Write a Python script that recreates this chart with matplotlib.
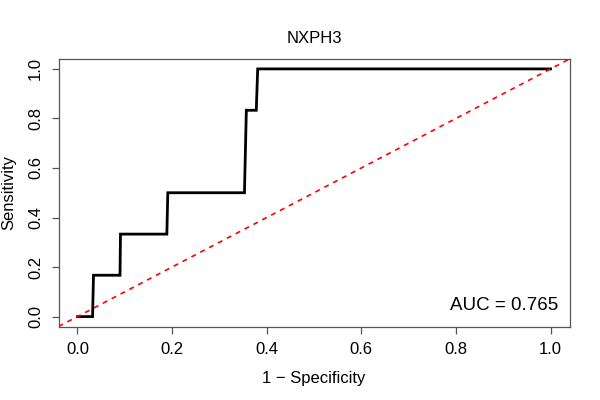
import numpy as np
import matplotlib
matplotlib.use('Agg')
import matplotlib.pyplot as plt

plt.rcParams['font.family'] = ['Liberation Sans', 'DejaVu Sans']
plt.rcParams['lines.scale_dashes'] = False

# ROC curve points
fpr = [0, 0.032, 0.034, 0.090, 0.091, 0.189, 0.191, 0.353, 0.357, 0.378, 0.381, 1.0]
tpr = [0, 0, 0.167, 0.167, 0.333, 0.333, 0.5, 0.5, 0.833, 0.833, 1.0, 1.0]
ticks = [0.0, 0.2, 0.4, 0.6, 0.8, 1.0]
tick_labels = ['0.0', '0.2', '0.4', '0.6', '0.8', '1.0']
auc = 0.765
gene = 'NXPH3'

fig = plt.figure(figsize=(6, 4), dpi=100)
ax = fig.add_axes([58.5/600, 1 - 326.5/400, (569.5 - 58.5)/600, (326.5 - 59)/400])

ax.plot(fpr, tpr, color='black', lw=2.0, solid_joinstyle='miter')
ax.axline((0, 0), slope=1, color='red', lw=1.2, linestyle=(0, (3.6, 3.6)))

ax.set_xlim(-0.04, 1.04)
ax.set_ylim(-0.04, 1.04)
ax.set_xticks(ticks)
ax.set_xticklabels(tick_labels)
ax.set_yticks(ticks)
ax.set_yticklabels(tick_labels, rotation=90, va='center')

for s in ax.spines.values():
    s.set_color('#555555')
    s.set_linewidth(0.9)
ax.tick_params(direction='out', length=5, width=0.9, color='#555555',
               labelsize=12, pad=6)

ax.text(1.017, 0.025, 'AUC = ' + str(auc), ha='right', va='baseline', fontsize=13.5)

fig.text(314 / 600, 1 - 42.7 / 400, gene, ha='center', va='baseline', fontsize=12)
fig.text(314 / 600, 1 - 382.7 / 400, '1 \u2212 Specificity', ha='center', va='baseline', fontsize=12)
fig.text(8.7 / 600, 1 - 192.7 / 400, 'Sensitivity', ha='center', va='center', rotation=90, fontsize=12)

fig.savefig('out.png', dpi=100)
